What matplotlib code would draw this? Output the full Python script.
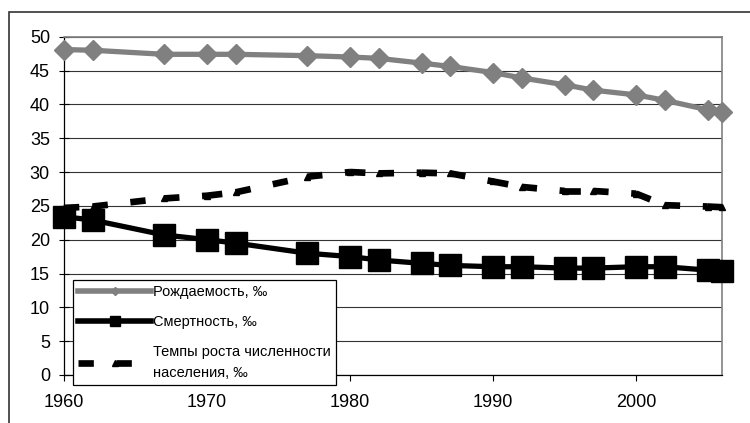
import matplotlib
matplotlib.use("Agg")
import matplotlib.pyplot as plt
from matplotlib.lines import Line2D
from matplotlib.patches import Rectangle

plt.rcParams['font.family'] = ['Liberation Sans', 'DejaVu Sans']

# годы наблюдений
years = [1960, 1962, 1967, 1970, 1972, 1977, 1980, 1982, 1985, 1987,
         1990, 1992, 1995, 1997, 2000, 2002, 2005, 2006]
# рождаемость, ‰
birth = [48.1, 48.0, 47.4, 47.4, 47.4, 47.2, 47.0, 46.8, 46.1, 45.6,
         44.7, 43.9, 42.9, 42.1, 41.4, 40.6, 39.2, 38.8]
# смертность, ‰
death = [23.4, 22.9, 20.7, 20.0, 19.5, 18.0, 17.5, 17.0, 16.5, 16.2,
         16.0, 16.0, 15.8, 15.8, 16.0, 16.0, 15.5, 15.3]
# темпы роста численности населения, ‰
growth = [24.7, 24.9, 26.1, 26.5, 27.0, 29.3, 30.0, 29.8, 29.9, 29.8,
          28.6, 27.8, 27.2, 27.2, 26.8, 25.1, 24.9, 24.8]

labels = ['Рождаемость, ‰', 'Смертность, ‰',
          'Темпы роста численности\nнаселения, ‰']
x_ticks = [1960, 1970, 1980, 1990, 2000]
y_ticks = list(range(0, 51, 5))

fig = plt.figure(figsize=(7.5, 4.23), dpi=100)
ax = fig.add_axes([0.0853, 0.1135, 0.8774, 0.7997])

# рамка вокруг области диаграммы
fig.patches.append(Rectangle((0.0124, -0.5), 2, 0.9723 + 0.5, transform=fig.transFigure,
                             fill=False, edgecolor='#333333', linewidth=1.2))

ax.set_xlim(1960, 2006)
ax.set_ylim(0, 50)

ax.yaxis.grid(True, color='#333333', linewidth=0.8)
ax.set_axisbelow(True)

# пунктир перезапускается на каждом отрезке, как в Excel
for i in range(len(years) - 1):
    ax.plot(years[i:i + 2], growth[i:i + 2], color='black', linewidth=4.8,
            dashes=(2.3, 3.4), dash_capstyle='butt', zorder=3, clip_on=False)
ax.plot(years, growth, linestyle='none', marker='^', markersize=4,
        color='black', zorder=3, clip_on=False)

ax.plot(years, birth, color='#808080', linewidth=3.8, marker='D', markersize=10,
        markerfacecolor='#808080', markeredgecolor='#808080', zorder=4, clip_on=False)
ax.plot(years, death, color='black', linewidth=3.8, marker='s', markersize=15.5,
        zorder=5, clip_on=False)

ax.set_xticks(x_ticks)
ax.set_yticks(y_ticks)
ax.tick_params(axis='y', direction='inout', length=7.2, width=0.8, labelsize=13, pad=6.5)
ax.tick_params(axis='x', direction='out', length=4.3, width=0.8, labelsize=13, pad=9.5)

for side in ('left', 'bottom'):
    ax.spines[side].set_color('black')
    ax.spines[side].set_linewidth(0.9)
for side in ('top', 'right'):
    ax.spines[side].set_color('#808080')
    ax.spines[side].set_linewidth(1.2)

handles = [
    Line2D([], [], color='#808080', linewidth=4, marker='D', markersize=4),
    Line2D([], [], color='black', linewidth=4, marker='s', markersize=7),
    Line2D([], [], color='black', linewidth=4.8, dashes=(2.3, 3.4), marker='^',
           markersize=4),
]
leg = ax.legend(handles, labels, loc='upper left', bbox_to_anchor=(0.0137, 0.281),
                fontsize=10.5, frameon=True, fancybox=False, edgecolor='black',
                framealpha=1, handlelength=5.0, handletextpad=0.15, borderpad=0.35,
                labelspacing=1.08, borderaxespad=0, numpoints=1)
leg.get_frame().set_linewidth(0.9)
leg.get_texts()[2].set_linespacing(1.7)
leg.set_zorder(6)

fig.savefig('out.png', dpi=100)
